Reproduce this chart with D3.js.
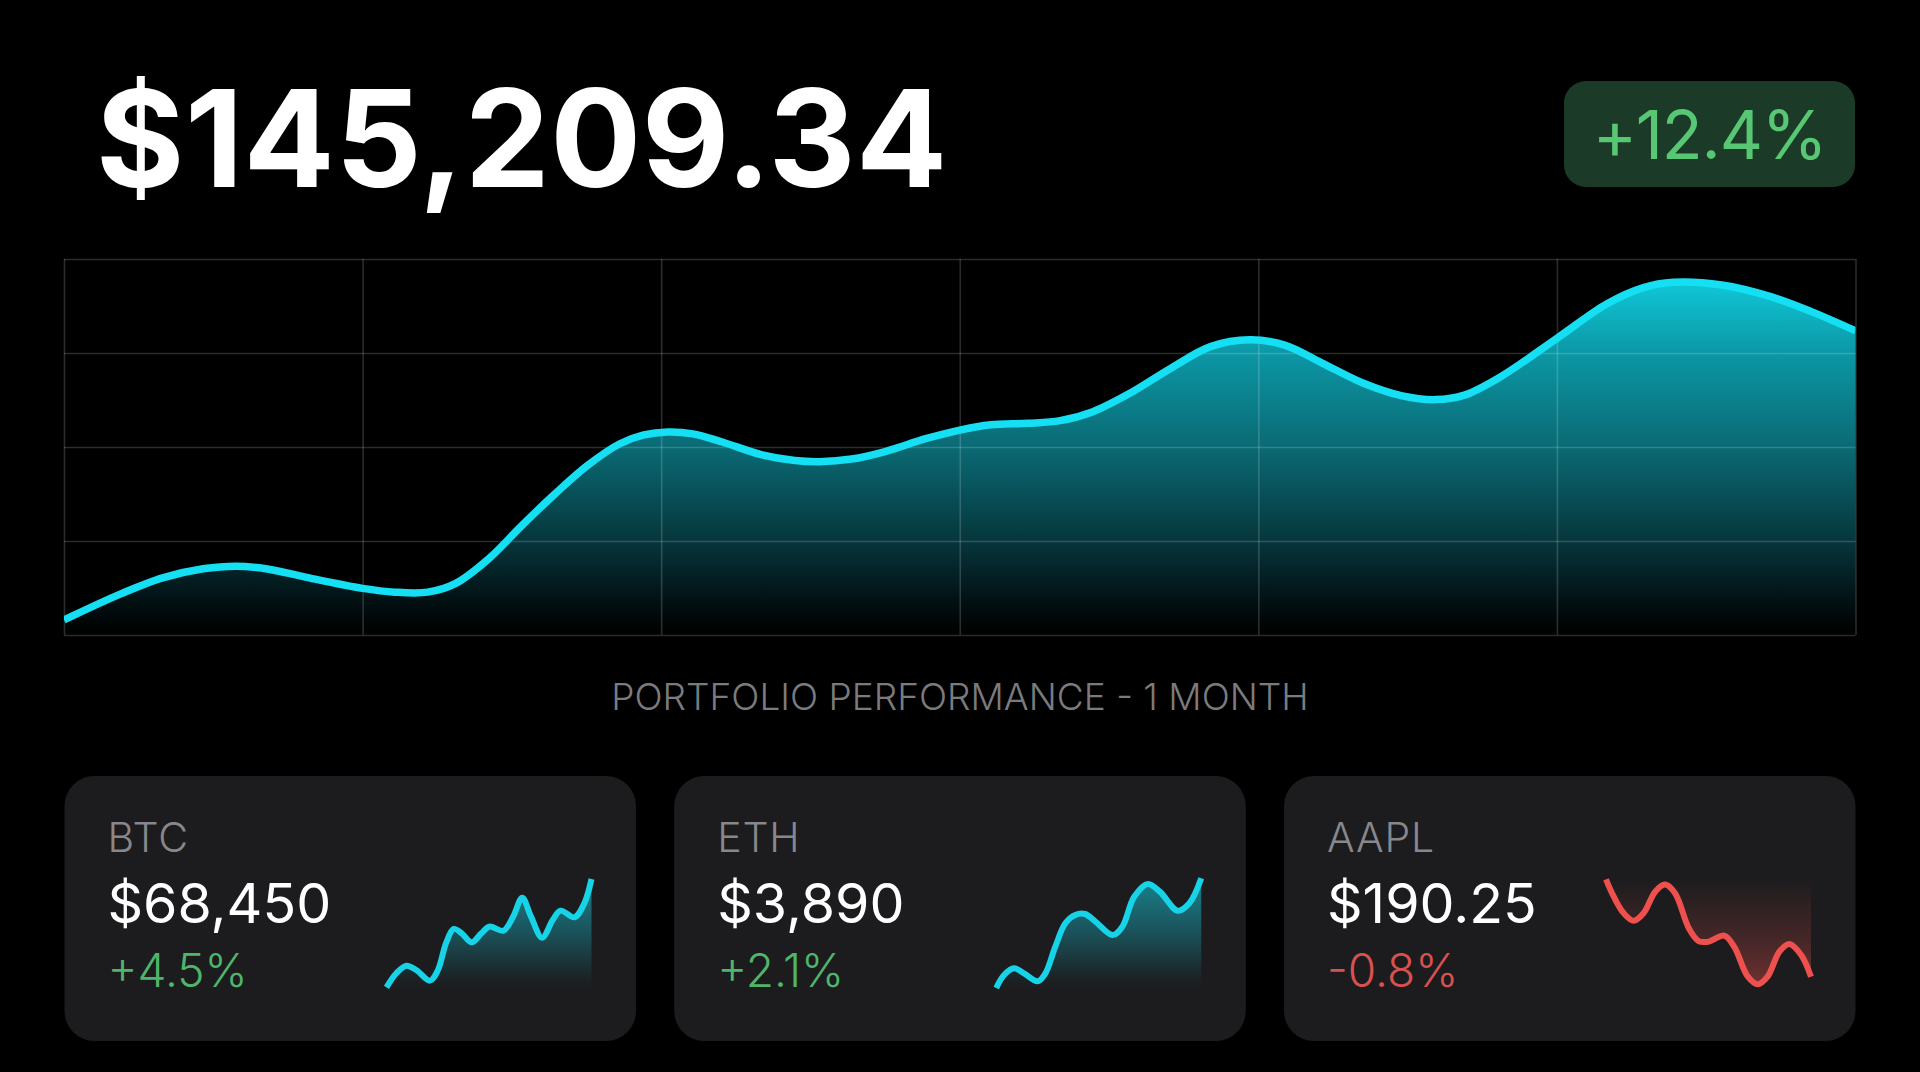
<!DOCTYPE html>
<html><head><meta charset="utf-8">
<script src="https://cdn.jsdelivr.net/npm/d3@7/dist/d3.min.js"></script>
<style>
html,body{margin:0;padding:0;background:#000;overflow:hidden}
svg{display:block}
text{font-family:Inter,"Noto Sans",sans-serif}
</style></head><body>
<svg id="c" width="1920" height="1072"></svg>
<script>
const headline = "$145,209.34";
const badge = "+12.4%";
const caption = "PORTFOLIO PERFORMANCE - 1 MONTH";
const days = [0,0.96,1.65,2.33,2.88,3.43,4.04,5,5.54,6.09,6.56,7.12,7.66,8.2,8.76,9.3,9.71,10.11,10.53,11.01,11.69,12.24,12.65,13.19,13.75,14.43,15,15.52,16.14,16.68,17.23,17.85,18.53,19.2,19.86,20.44,21.06,21.74,22.41,22.97,23.45,24.06,25,25.84,26.45,26.95,27.76,28.58,29.26,30];
const portfolio = [4,11,15.2,17.6,18.3,17.5,15.4,12.4,11.4,11.4,13.75,20.4,29,37.2,45,50.8,53.2,54,53.5,51.4,47.9,46.4,46.1,46.8,48.8,52.2,54.5,55.9,56.3,57,59.4,64.3,70.9,76.7,78.5,77.1,72.4,67.1,63.6,62.6,63.8,68.7,78.9,88.1,92.4,93.8,93.1,90,86,80.9];
const xTicks = [0,5,10,15,20,25,30];
const yTicks = [0,25,50,75,100];
const tickers = ["BTC","ETH","AAPL"];
const prices = ["$68,450","$3,890","$190.25"];
const changes = ["+4.5%","+2.1%","-0.8%"];
const btcT = [0,4.8,9.7,14.5,21.2,25.1,29,32.8,36.7,41.5,46.3,50.2,57,61.8,66.2,70.5,75.9,81.1,84.9,91.7,96.5,100];
const btcV = [2.4,15.2,22.1,18.2,8.5,18.2,42.4,55.5,51.5,43.3,51.5,57.6,53.9,66.7,83.9,66.7,47.6,63.6,72.1,66.1,78.8,100.9];
const ethT = [0,3.8,8.7,13.5,20.2,24,28.8,33.7,38.5,43.3,48.1,56.8,61.5,67.3,74,79.8,88.5,94.2,100];
const ethV = [1.8,13.6,19.7,15.2,7.9,15.2,39.4,60.6,68.2,69.1,62.7,50,57.6,84.8,96.4,89.4,72.1,78.8,101.5];
const aaplT = [0,3.8,8.7,13.5,18.3,24,28.8,33.7,40.4,45.2,50,57.7,62.5,69.2,74,78.8,84.6,89.4,95.2,100];
const aaplV = [100.6,84.8,69.7,63,69.7,89.4,95.8,87.9,56.1,44.5,43.9,49.4,39.4,12.1,5.2,12.1,34.8,41.8,31.8,12.1];
const sparkT = [btcT,ethT,aaplT];
const sparkV = [btcV,ethV,aaplV];

const svg = d3.select("#c");
const defs = svg.append("defs");
const CYAN="#14dff3", GREEN="#4fb56b", RED="#d9514f";

// headline
svg.append("text").attr("x",96).attr("y",187).attr("fill","#fff")
  .attr("font-size",135).attr("font-weight",700).attr("letter-spacing",0.5).text(headline);

// badge
svg.append("rect").attr("x",1564).attr("y",81).attr("width",291).attr("height",106).attr("rx",22).attr("fill","#1b3a27");
svg.append("text").attr("x",1709.5).attr("y",159).attr("text-anchor","middle").attr("fill","#58c774")
  .attr("font-size",67).attr("letter-spacing",-1.2).text(badge);

// main chart
const L=64,R=1855.5,T=259,B=635;
const x=d3.scaleLinear().domain([0,30]).range([L,R]);
const y=d3.scaleLinear().domain([0,100]).range([B,T]);
const pts=days.map((d,i)=>[d,portfolio[i]]);
const grad=defs.append("linearGradient").attr("id","mainFill").attr("gradientUnits","userSpaceOnUse")
  .attr("x1",0).attr("x2",0).attr("y1",T).attr("y2",B);
[[0,"#12d4e6"],[0.09,"#0fc0d0"],[0.25,"#0c97a5"],[0.5,"#0a6a74"],[0.75,"#06363c"],[0.92,"#020e10"],[1,"#000"]]
  .forEach(s=>grad.append("stop").attr("offset",s[0]).attr("stop-color",s[1]));
const clip=defs.append("clipPath").attr("id","plot");
clip.append("rect").attr("x",L).attr("y",T).attr("width",R-L).attr("height",B-T);

const curve=d3.curveCatmullRom.alpha(0.5);
svg.append("path").datum(pts).attr("fill","url(#mainFill)")
  .attr("d",d3.area().x(d=>x(d[0])).y0(B).y1(d=>y(d[1])).curve(curve));

const gridStyle=g=>{g.select(".domain").remove();
  g.selectAll(".tick line").attr("stroke","rgba(255,255,255,.17)").attr("stroke-width",1.6);};
svg.append("g").attr("transform",`translate(0,${B})`)
  .call(d3.axisBottom(x).tickValues(xTicks).tickSize(-(B-T)).tickFormat("")).call(gridStyle);
svg.append("g").attr("transform",`translate(${L},0)`)
  .call(d3.axisLeft(y).tickValues(yTicks).tickSize(-(R-L)).tickFormat("")).call(gridStyle);

const mainLine=d3.line().x(d=>x(d[0])).y(d=>y(d[1])).curve(curve);
const lineG=svg.append("g").attr("clip-path","url(#plot)");
lineG.append("path").datum(pts).attr("fill","none").attr("stroke",CYAN).attr("stroke-width",7.5).attr("d",mainLine);

// caption
svg.append("text").attr("x",960).attr("y",710).attr("text-anchor","middle").attr("fill","#7b7b7e")
  .attr("font-size",37).attr("font-weight",300).text(caption);

// cards
const cardX=d3.scalePoint().domain(tickers).range([64.5,1284]);
const cardW=571.5, cardTop=776, cardH=265;
tickers.forEach((name,i)=>{
  const g=svg.append("g").attr("transform",`translate(${cardX(name)},${cardTop})`);
  const down=changes[i].startsWith("-");
  const col=down?"#ee504d":"#17d3e8";
  g.append("rect").attr("width",cardW).attr("height",cardH).attr("rx",30).attr("fill","#1c1c1e");
  g.append("text").attr("x",43).attr("y",76).attr("fill","#88888c").attr("font-size",41).attr("font-weight",300).attr("letter-spacing",0.8).text(name);
  g.append("text").attr("x",43).attr("y",147).attr("fill","#fff").attr("font-size",55.5).text(prices[i]);
  g.append("text").attr("x",43).attr("y",211).attr("fill",down?RED:GREEN).attr("font-size",46).attr("font-weight",300).text(changes[i]);

  const sx=d3.scaleLinear().domain([0,100]).range([322,527]);
  const sy=d3.scaleLinear().domain([0,100]).range([214,104]);
  const p=sparkT[i].map((t,k)=>[t,sparkV[i][k]]);
  const id="spark"+i;
  const sg=defs.append("linearGradient").attr("id",id).attr("gradientUnits","userSpaceOnUse")
    .attr("x1",0).attr("x2",0).attr("y1",sy(100)).attr("y2",sy(0));
  (down
    ? [[0,"#ee504d",0],[.15,"#ee504d",.06],[.6,"#ee504d",.22],[1,"#ee504d",.42]]
    : [[0,"#17d3e8",.55],[.5,"#17d3e8",.28],[.9,"#17d3e8",.03],[1,"#17d3e8",0]]
  ).forEach(s=>sg.append("stop").attr("offset",s[0]).attr("stop-color",s[1]).attr("stop-opacity",s[2]));
  const c=d3.curveCatmullRom.alpha(0.5);
  g.append("path").datum(p).attr("fill",`url(#${id})`)
    .attr("d",d3.area().x(d=>sx(d[0])).y0(down?sy(100):sy(0)).y1(d=>sy(d[1])).curve(c));
  g.append("path").datum(p).attr("fill","none").attr("stroke",col).attr("stroke-width",6)
    .attr("d",d3.line().x(d=>sx(d[0])).y(d=>sy(d[1])).curve(c));
});
</script></body></html>
